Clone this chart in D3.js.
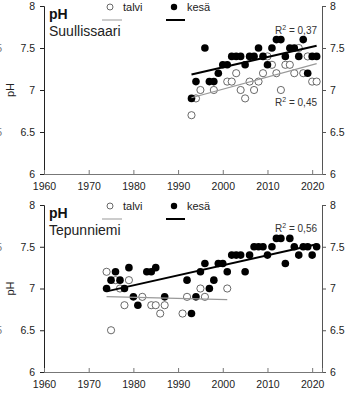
<!DOCTYPE html>
<html>
<head>
<meta charset="utf-8">
<script src="https://cdn.jsdelivr.net/npm/d3@7"></script>
<style>
  body { margin: 0; background: #fff; }
  svg { display: block; font-family: "Liberation Sans", Arial, sans-serif; }
</style>
</head>
<body>
<svg id="chart" width="350" height="398"></svg>
<script>
// Axis ticks
const yearTicks = [1960, 1970, 1980, 1990, 2000, 2010, 2020];
const phTicks = [6, 6.5, 7, 7.5, 8];

// Suullissaari: winter (talvi) and summer (kesä) pH
const suulTalviYears = [1993, 1994, 1995, 1998, 2001, 2002, 2003, 2004, 2005, 2006, 2007, 2008, 2009, 2010, 2011, 2012, 2013, 2014, 2015, 2016, 2017, 2018, 2019, 2020, 2021];
const suulTalviPH    = [6.7, 6.9, 7.0, 7.0, 7.1, 7.1, 7.2, 7.0, 6.9, 7.1, 7.0, 7.1, 7.2, 7.4, 7.3, 7.2, 7.0, 7.3, 7.3, 7.2, 7.5, 7.2, 7.4, 7.1, 7.1];
const suulKesaYears  = [1993, 1994, 1996, 1997, 1998, 1999, 2000, 2001, 2002, 2003, 2004, 2005, 2006, 2007, 2008, 2009, 2010, 2011, 2012, 2013, 2014, 2015, 2016, 2017, 2018, 2019, 2020, 2021];
const suulKesaPH     = [6.9, 7.1, 7.5, 7.1, 7.1, 7.2, 7.3, 7.3, 7.4, 7.4, 7.4, 7.3, 7.4, 7.4, 7.5, 7.4, 7.3, 7.5, 7.6, 7.6, 7.4, 7.5, 7.5, 7.4, 7.6, 7.2, 7.4, 7.4];

// Tepunniemi: winter (talvi) and summer (kesä) pH
const tepuTalviYears = [1974, 1975, 1976, 1977, 1978, 1979, 1982, 1984, 1985, 1986, 1987, 1991, 1992, 1995, 1996, 2001];
const tepuTalviPH    = [7.2, 6.5, 7.1, 7.0, 6.8, 7.1, 6.9, 6.8, 6.8, 6.7, 6.8, 6.7, 6.9, 7.0, 6.9, 7.0];
const tepuKesaYears  = [1974, 1975, 1976, 1977, 1978, 1979, 1980, 1981, 1983, 1984, 1985, 1987, 1992, 1993, 1994, 1995, 1996, 1997, 1998, 1999, 2000, 2001, 2002, 2003, 2004, 2005, 2006, 2007, 2008, 2009, 2010, 2011, 2012, 2013, 2014, 2015, 2016, 2017, 2018, 2019, 2020, 2021];
const tepuKesaPH     = [7.0, 7.1, 7.2, 7.1, 7.0, 7.25, 6.9, 6.8, 7.2, 7.2, 7.25, 6.9, 7.1, 6.7, 6.9, 7.2, 7.3, 7.0, 7.1, 7.3, 7.3, 7.2, 7.4, 7.4, 7.4, 7.2, 7.4, 7.5, 7.5, 7.5, 7.4, 7.5, 7.6, 7.6, 7.3, 7.6, 7.5, 7.4, 7.5, 7.5, 7.4, 7.5];

const stationNames = ["Suullissaari", "Tepunniemi"];
const r2Labels = [["0,45", "0,37"], ["", "0,56"]];

const svg = d3.select("#chart");
const left = 44, right = 322;
const x = d3.scaleLinear().domain([1960, 2022.2]).range([left, right]);

function zip(ys, vs) { return ys.map((y, i) => ({ year: y, ph: vs[i] })); }

function fit(pts) {
  const mx = d3.mean(pts, d => d.year), my = d3.mean(pts, d => d.ph);
  const sxy = d3.sum(pts, d => (d.year - mx) * (d.ph - my));
  const sxx = d3.sum(pts, d => (d.year - mx) ** 2);
  const b = sxy / sxx, a = my - b * mx;
  const ext = d3.extent(pts, d => d.year);
  return ext.map(t => ({ year: t, ph: a + b * t }));
}

function panel(top, bottom, name, talvi, kesa, r2, r2pos) {
  const y = d3.scaleLinear().domain([6, 8]).range([bottom, top]);
  const g = svg.append("g");

  // clipped tick labels of the neighbouring chart at the left edge
  [7.5, 6.5].forEach(v => {
    g.append("text").attr("x", 2).attr("y", y(v) + 4).attr("text-anchor", "end")
      .attr("font-size", 10.5).attr("fill", "#777").text(String(v));
  });

  // left axis
  const la = g.append("g").attr("transform", `translate(${left},0)`)
    .call(d3.axisLeft(y).tickValues(phTicks).tickSize(4).tickPadding(5).tickFormat(d3.format("")));
  la.select(".domain").attr("stroke", "#222").attr("stroke-width", 1);
  la.selectAll(".tick line").attr("stroke", "#222");
  la.selectAll("text").attr("font-size", 10.5).attr("fill", "#222").attr("font-family", "Liberation Sans, Arial, sans-serif");

  // right axis
  const ra = g.append("g").attr("transform", `translate(${right},0)`)
    .call(d3.axisRight(y).tickValues(phTicks).tickSize(4).tickPadding(4).tickFormat(d3.format("")));
  ra.select(".domain").attr("stroke", "#555");
  ra.selectAll(".tick line").attr("stroke", "#555");
  ra.selectAll("text").attr("font-size", 10.5).attr("fill", "#222").attr("font-family", "Liberation Sans, Arial, sans-serif");

  // bottom axis, ticks point inward
  const ba = g.append("g").attr("transform", `translate(0,${bottom})`)
    .call(d3.axisBottom(x).tickValues(yearTicks).tickSize(-4).tickPadding(9).tickFormat(d3.format("d")));
  ba.select(".domain").attr("stroke", "#777");
  ba.selectAll(".tick line").attr("stroke", "#777");
  ba.selectAll("text").attr("font-size", 10.5).attr("fill", "#222").attr("font-family", "Liberation Sans, Arial, sans-serif");

  // y title
  g.append("text").attr("transform", `translate(14,${(top + bottom) / 2}) rotate(-90)`)
    .attr("text-anchor", "middle").attr("font-size", 11).attr("fill", "#222").text("pH");

  // panel title
  g.append("text").attr("x", 49).attr("y", top + 13).attr("font-size", 14).attr("font-weight", "bold").attr("fill", "#111").text("pH");
  g.append("text").attr("x", 49).attr("y", top + 30).attr("font-size", 14).attr("fill", "#222").text(name);

  // legend
  g.append("circle").attr("cx", 110).attr("cy", top + 1).attr("r", 3).attr("fill", "#fff").attr("stroke", "#444").attr("stroke-width", 0.8);
  g.append("text").attr("x", 123).attr("y", top + 5).attr("font-size", 11).attr("fill", "#222").text("talvi");
  g.append("circle").attr("cx", 174).attr("cy", top + 1).attr("r", 3.2).attr("fill", "#000");
  g.append("text").attr("x", 187).attr("y", top + 5).attr("font-size", 11).attr("fill", "#222").text("kesä");
  g.append("line").attr("x1", 102).attr("x2", 122).attr("y1", top + 14).attr("y2", top + 14).attr("stroke", "#aaa").attr("stroke-width", 1.2);
  g.append("line").attr("x1", 166).attr("x2", 185).attr("y1", top + 14).attr("y2", top + 14).attr("stroke", "#000").attr("stroke-width", 2);

  const line = d3.line().x(d => x(d.year)).y(d => y(d.ph));

  // points
  g.append("g").selectAll("circle").data(talvi).join("circle")
    .attr("cx", d => x(d.year)).attr("cy", d => y(d.ph)).attr("r", 3.6)
    .attr("fill", "#fff").attr("stroke", "#444").attr("stroke-width", 0.8);
  g.append("g").selectAll("circle").data(kesa).join("circle")
    .attr("cx", d => x(d.year)).attr("cy", d => y(d.ph)).attr("r", 3.8)
    .attr("fill", "#000");

  // trend lines
  g.append("path").attr("d", line(fit(talvi))).attr("fill", "none").attr("stroke", "#999").attr("stroke-width", 1.2);
  g.append("path").attr("d", line(fit(kesa))).attr("fill", "none").attr("stroke", "#000").attr("stroke-width", 2);

  // R² labels
  r2.forEach((lab, i) => {
    if (!lab) return;
    const t = g.append("text").attr("x", 317).attr("y", r2pos[i]).attr("text-anchor", "end")
      .attr("font-size", 10).attr("fill", "#333").attr("font-stretch", "condensed");
    t.append("tspan").text("R");
    t.append("tspan").attr("font-size", 7).attr("dy", -4).text("2");
    t.append("tspan").attr("dy", 4).text(" = " + lab);
  });
}

panel(6, 174, stationNames[0], zip(suulTalviYears, suulTalviPH), zip(suulKesaYears, suulKesaPH), r2Labels[0], [106, 34]);
panel(205, 372, stationNames[1], zip(tepuTalviYears, tepuTalviPH), zip(tepuKesaYears, tepuKesaPH), r2Labels[1], [0, 232]);
</script>
</body>
</html>
